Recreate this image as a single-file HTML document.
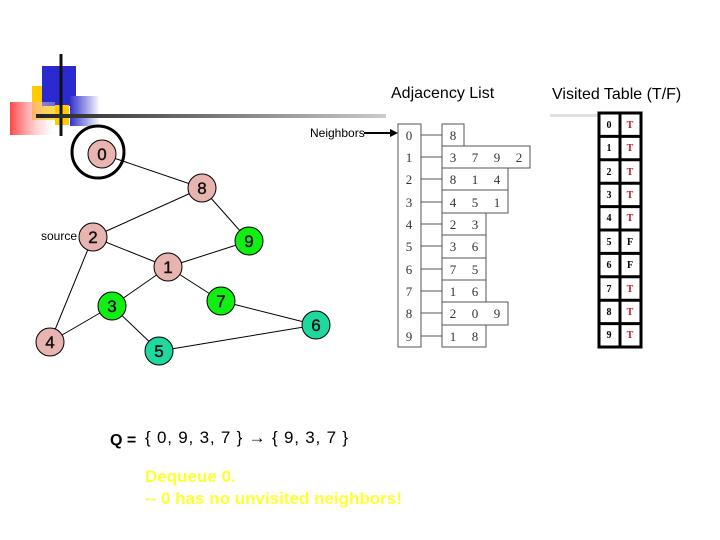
<!DOCTYPE html>
<html><head><style>body{margin:0;background:#fff}svg{display:block}</style></head><body>
<svg width="720" height="540" xmlns="http://www.w3.org/2000/svg" font-family="Liberation Sans, sans-serif">
<defs>
<linearGradient id="hl" x1="0" x2="1"><stop offset="0" stop-color="#222"/><stop offset="1" stop-color="#ccc"/></linearGradient>
<linearGradient id="rg" x1="0" x2="1"><stop offset="0" stop-color="#f44"/><stop offset="1" stop-color="#fff" stop-opacity="0.3"/></linearGradient>
<linearGradient id="bg" x1="0" x2="1"><stop offset="0" stop-color="#33c"/><stop offset="1" stop-color="#fff"/></linearGradient>
</defs>
<rect x="32" y="86" width="28" height="34" fill="#fc0"/>
<rect x="42" y="66" width="34" height="40" fill="#2a2ad0"/>
<rect x="70" y="96" width="30" height="30" fill="url(#bg)"/>
<rect x="10" y="102" width="45" height="33" fill="url(#rg)"/>
<rect x="55" y="105" width="14" height="20" fill="#fc0"/>
<line x1="61" y1="54" x2="61" y2="136" stroke="#111" stroke-width="3"/>
<rect x="36" y="114" width="350" height="4" fill="url(#hl)"/>
<rect x="550" y="114" width="48" height="3" fill="#e0e0e0"/>
<g stroke="#000" stroke-width="1">
<line x1="102" y1="154" x2="202" y2="188"/><line x1="202" y1="188" x2="93" y2="237"/><line x1="202" y1="188" x2="249" y2="241"/>
<line x1="93" y1="237" x2="168" y2="267"/><line x1="93" y1="237" x2="50" y2="342"/><line x1="168" y1="267" x2="249" y2="241"/>
<line x1="168" y1="267" x2="112" y2="306"/><line x1="168" y1="267" x2="221" y2="301"/><line x1="112" y1="306" x2="50" y2="342"/>
<line x1="112" y1="306" x2="159" y2="351"/><line x1="221" y1="301" x2="316" y2="325"/><line x1="159" y1="351" x2="316" y2="325"/>
</g>
<circle cx="98" cy="152" r="26" fill="none" stroke="#000" stroke-width="3"/>
<g stroke="#000" stroke-width="1">
<circle cx="102" cy="154" r="14" fill="#e8b4b0"/><circle cx="202" cy="188" r="14" fill="#e8b4b0"/><circle cx="93" cy="237" r="14" fill="#e8b4b0"/>
<circle cx="168" cy="267" r="14" fill="#e8b4b0"/><circle cx="50" cy="342" r="14" fill="#e8b4b0"/>
<circle cx="249" cy="241" r="14" fill="#11ee11"/><circle cx="221" cy="301" r="14" fill="#11ee11"/><circle cx="112" cy="306" r="14" fill="#11ee11"/>
<circle cx="316" cy="325" r="14" fill="#1ed8a0"/><circle cx="159" cy="351" r="14" fill="#1ed8a0"/>
</g>
<g font-size="17" text-anchor="middle" fill="#111" stroke="#111" stroke-width="0.4">
<text x="102" y="160">0</text><text x="202" y="194">8</text><text x="93" y="243">2</text><text x="168" y="273">1</text><text x="50" y="348">4</text>
<text x="249" y="247">9</text><text x="221" y="307">7</text><text x="112" y="312">3</text><text x="316" y="331">6</text><text x="159" y="357">5</text>
</g>
<text x="41" y="240" font-size="12">source</text>
<text x="310" y="137" font-size="12">Neighbors</text>
<line x1="364" y1="133" x2="392" y2="133" stroke="#000" stroke-width="2"/><polygon points="398,133 390,129 390,137" fill="#000"/>
<text x="391" y="98" font-size="16">Adjacency List</text>
<text x="552" y="99" font-size="16">Visited Table (T/F)</text>
<rect x="398" y="124" width="23" height="223" fill="none" stroke="#555"/>
<g fill="none" stroke="#555">
<rect x="442" y="124" width="22" height="22"/><rect x="442" y="146" width="88" height="22"/><rect x="442" y="168" width="66" height="22"/>
<rect x="442" y="190" width="66" height="23"/><rect x="442" y="213" width="44" height="22"/><rect x="442" y="235" width="44" height="23"/>
<rect x="442" y="258" width="44" height="22"/><rect x="442" y="280" width="44" height="22"/><rect x="442" y="302" width="66" height="23"/>
<rect x="442" y="325" width="44" height="22"/>
<path d="M421 135H442M421 157H442M421 179H442M421 202H442M421 224H442M421 246H442M421 269H442M421 291H442M421 313H442M421 336H442"/>
</g>
<g font-family="Liberation Serif, serif" font-size="13" fill="#333" text-anchor="middle">
<text x="409" y="140">0</text><text x="409" y="162">1</text><text x="409" y="184">2</text><text x="409" y="207">3</text><text x="409" y="229">4</text>
<text x="409" y="251">5</text><text x="409" y="274">6</text><text x="409" y="296">7</text><text x="409" y="318">8</text><text x="409" y="341">9</text>
<text x="453" y="140">8</text>
<text x="453" y="162">3</text><text x="475" y="162">7</text><text x="497" y="162">9</text><text x="519" y="162">2</text>
<text x="453" y="184">8</text><text x="475" y="184">1</text><text x="497" y="184">4</text>
<text x="453" y="207">4</text><text x="475" y="207">5</text><text x="497" y="207">1</text>
<text x="453" y="229">2</text><text x="475" y="229">3</text>
<text x="453" y="251">3</text><text x="475" y="251">6</text>
<text x="453" y="274">7</text><text x="475" y="274">5</text>
<text x="453" y="296">1</text><text x="475" y="296">6</text>
<text x="453" y="318">2</text><text x="475" y="318">0</text><text x="497" y="318">9</text>
<text x="453" y="341">1</text><text x="475" y="341">8</text>
</g>
<g fill="none" stroke="#000" stroke-width="3">
<rect x="599" y="113" width="42" height="234"/>
<path d="M620 113V347M599 136.4H641M599 159.8H641M599 183.2H641M599 206.6H641M599 230H641M599 253.4H641M599 276.8H641M599 300.2H641M599 323.6H641"/>
</g>
<g font-family="Liberation Serif, serif" font-size="10" font-weight="bold" text-anchor="middle">
<text x="609" y="128">0</text><text x="609" y="151">1</text><text x="609" y="175">2</text><text x="609" y="198">3</text><text x="609" y="221">4</text>
<text x="609" y="245">5</text><text x="609" y="268">6</text><text x="609" y="292">7</text><text x="609" y="315">8</text><text x="609" y="338">9</text>
<g fill="#c0141e"><text x="630" y="128">T</text><text x="630" y="151">T</text><text x="630" y="175">T</text><text x="630" y="198">T</text><text x="630" y="221">T</text>
<text x="630" y="292">T</text><text x="630" y="315">T</text><text x="630" y="338">T</text></g>
<text x="630" y="245">F</text><text x="630" y="268">F</text>
</g>
<text x="110" y="445" font-size="16" font-weight="bold">Q =</text>
<text x="145" y="443" font-size="17" letter-spacing="0.8">{ 0, 9, 3, 7 } → { 9, 3, 7 }</text>
<text x="145" y="482" font-size="17" font-weight="bold" fill="#ffff33">Dequeue 0.</text>
<text x="145" y="504" font-size="17" font-weight="bold" fill="#ffff33">-- 0 has no unvisited neighbors!</text>
</svg>
</body></html>
